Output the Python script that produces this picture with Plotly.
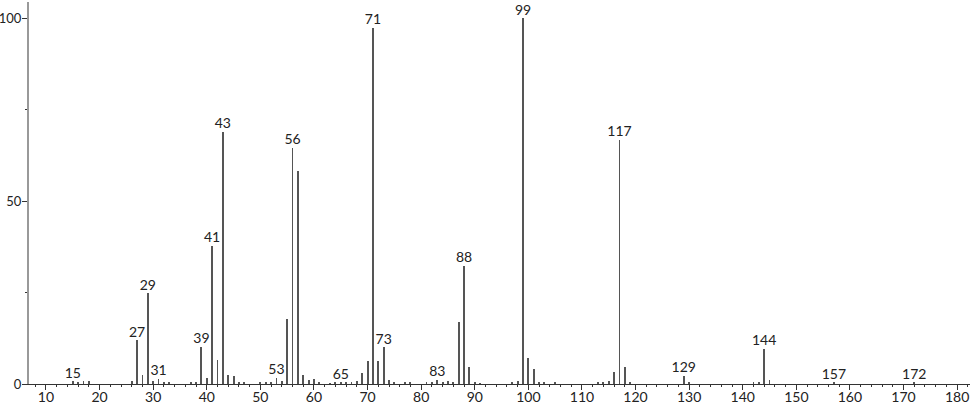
import plotly.graph_objects as go

# m/z values and relative intensities
mz = [15, 16, 17, 18, 26, 27, 28, 29, 30, 31, 32, 33, 37, 38, 39, 40, 41, 42, 43, 44, 45, 46, 47,
      50, 51, 52, 53, 54, 55, 56, 57, 58, 59, 60, 61, 63, 64, 65, 66, 67, 68, 69, 70, 71, 72, 73,
      74, 75, 77, 78, 81, 82, 83, 84, 85, 86, 87, 88, 89, 90, 91, 97, 98, 99, 100, 101, 102, 103,
      105, 113, 114, 115, 116, 117, 118, 119, 129, 130, 142, 143, 144, 145, 157, 172]
intensity = [0.8, 0.3, 0.7, 0.8, 0.9, 12.0, 2.4, 24.8, 0.9, 1.4, 0.6, 0.3, 0.5, 0.6, 10.2, 1.7, 37.8, 6.6, 69.0, 2.4, 2.2, 0.4, 0.4,
             0.5, 0.5, 0.5, 1.7, 0.7, 17.8, 64.6, 58.2, 2.5, 1.1, 1.4, 0.3, 0.2, 0.3, 0.5, 0.3, 0.5, 0.7, 2.9, 6.4, 97.4, 6.4, 10.0,
             1.1, 0.4, 0.3, 0.5, 0.3, 0.4, 1.1, 0.6, 0.8, 0.6, 16.9, 32.3, 4.6, 0.3, 0.2, 0.5, 0.8, 100.0, 7.2, 4.0, 0.6, 0.6,
             0.4, 0.5, 0.6, 0.9, 3.3, 66.8, 4.6, 0.4, 2.3, 0.3, 0.5, 0.6, 9.6, 1.1, 0.3, 0.3]

# labelled peaks
label_mz = [15, 27, 29, 31, 39, 41, 43, 53, 56, 65, 71, 73, 83, 88, 99, 117, 129, 144, 157, 172]

lookup = dict(zip(mz, intensity))
label_int = [lookup[m] for m in label_mz]
label_txt = [str(m) for m in label_mz]

x_ticks = list(range(10, 181, 10))
y_ticks = [0, 50, 100]

FONT = "Lato, 'DejaVu Sans', sans-serif"

fig = go.Figure()
fig.add_trace(go.Bar(x=mz, y=intensity, width=0.17,
                     marker=dict(color="#555555", line=dict(width=0)),
                     hoverinfo="x+y"))
fig.add_trace(go.Scatter(x=label_mz, y=label_int, mode="text", text=label_txt,
                         textposition="top center",
                         textfont=dict(family=FONT, size=14, color="#222"),
                         cliponaxis=False, hoverinfo="skip"))

fig.update_layout(
    width=974, height=406,
    margin=dict(l=29, r=4, t=2, b=22, autoexpand=False),
    paper_bgcolor="white", plot_bgcolor="white",
    showlegend=False, bargap=0,
    font=dict(family=FONT, size=14, color="#222"),
    xaxis=dict(range=[6.83, 182.4], tickvals=x_ticks, ticks="outside", ticklen=5,
               tickcolor="#333", tickwidth=1, showgrid=False, zeroline=False,
               showline=True, linecolor="#333", linewidth=1, automargin=False,
               minor=dict(dtick=2, tick0=0, ticks="outside", ticklen=2, tickcolor="#333", showgrid=False),
               tickfont=dict(family=FONT, size=14, color="#222"), ticklabelstandoff=-5),
    yaxis=dict(range=[0, 104.4], tickvals=y_ticks, ticks="outside", ticklen=5,
               tickcolor="#333", tickwidth=1, showgrid=False, zeroline=False,
               showline=True, linecolor="#999", linewidth=2, automargin=False,
               minor=dict(tickvals=[25, 75], ticks="outside", ticklen=2, tickcolor="#333", showgrid=False),
               tickfont=dict(family=FONT, size=13, color="#222"), ticklabelstandoff=-2),
)

fig.write_html("out.html", config={"displayModeBar": False},
               post_script="document.body.style.margin='0';document.body.style.padding='0';document.body.style.overflow='hidden';")
